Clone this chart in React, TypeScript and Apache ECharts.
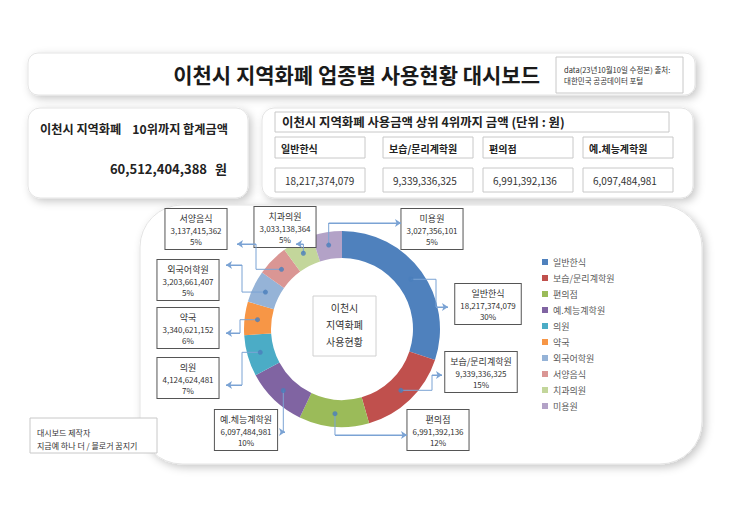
import React, { useEffect, useRef } from 'react';
import * as echarts from 'echarts';

// ---------- data ----------
const categories = ['일반한식', '보습/문리계학원', '편의점', '예.체능계학원', '의원', '약국', '외국어학원', '서양음식', '치과의원', '미용원'];
const amounts = [18217374079, 9339336325, 6991392136, 6097484981, 4124624481, 3340621152, 3203661407, 3137415362, 3033138364, 3027356101];
const sliceColors = ['#4F81BD', '#C0504D', '#9BBB59', '#8064A2', '#4BACC6', '#F79646', '#95B3D7', '#DA9694', '#C3D69B', '#B3A2C7'];
const titleText = '이천시 지역화폐 업종별 사용현황 대시보드';
const sourceLines = ['data(23년10월10일 수정본) 출처:', '대한민국 공공데이터 포털'];
const kpiLabel = '이천시 지역화폐    10위까지 합계금액';
const kpiUnit = '원';
const tableTitle = '이천시 지역화폐 사용금액 상위 4위까지 금액 (단위 : 원)';
const centerLines = ['이천시', '지역화폐', '사용현황'];
const makerLines = ['대시보드 제작자', '지금예 하나 더 / 블로거 꿈지기'];
const TOP_N = 4;

// ---------- layout ----------
const FONT = "'Noto Sans CJK KR', 'Noto Sans', sans-serif";
const W = 743;
const H = 526;
const CX = 342;
const CY = 329;
const R_IN = 71;
const R_OUT = 98;
const R_MID = 85;
const labelCenters = [[488, 304], [481, 372], [438, 430], [246, 430], [188, 378], [188, 328], [188, 280], [196, 229], [285, 227], [432, 229]];
const arrowTips = [[448, 307], [442, 375], [407, 435], [285, 432], [226, 385], [226, 333], [226, 265], [237, 244], [296, 244], [401, 223]];
const elbowX: (number | null)[] = [436, 432, null, null, 242, 240, 242, 256, null, null];
const tableColX = [275, 383, 483, 583];

const fmt = (n: number) => n.toLocaleString('en-US');

export default function App() {
  const ref = useRef<HTMLDivElement>(null);

  useEffect(() => {
    if (!ref.current) return;
    const chart = echarts.init(ref.current, null, { renderer: 'svg' });

    const total = amounts.reduce((a, b) => a + b, 0);
    let acc = 0;
    const dots = amounts.map((v) => {
      const mid = (acc + v / 2) / total;
      acc += v;
      const t = mid * 2 * Math.PI;
      return [CX + R_MID * Math.sin(t), CY - R_MID * Math.cos(t)];
    });
    const paths = dots.map((d, i) => {
      const tip = arrowTips[i];
      const ex = elbowX[i];
      return ex == null ? [d, [d[0], tip[1]], tip] : [d, [ex, d[1]], [ex, tip[1]], tip];
    });

    const shadow = { shadowBlur: 8, shadowColor: 'rgba(0,0,0,0.22)', shadowOffsetX: 3, shadowOffsetY: 3 };
    const graphics: any[] = [];
    const card = (x: number, y: number, w: number, h: number, r: number) =>
      graphics.push({ type: 'rect', z: 0, shape: { x, y, width: w, height: h, r }, style: { fill: '#fff', stroke: '#e4e4e4', lineWidth: 1, ...shadow } });
    const box = (x: number, y: number, w: number, h: number, stroke = '#c8c8c8') =>
      graphics.push({ type: 'rect', z: 1, shape: { x, y, width: w, height: h }, style: { fill: '#fff', stroke, lineWidth: 1 } });
    const text = (x: number, y: number, t: string, size: number, opts: any = {}) =>
      graphics.push({ type: 'text', z: 2, x, y, style: { text: t, fontSize: size, fontFamily: FONT, fill: '#222', verticalAlign: 'middle', align: 'left', ...opts } });

    // title card
    card(28, 53, 667, 42, 10);
    text(540, 74, titleText, 21, { fontWeight: 'bold', align: 'right', fill: '#1a1a1a' });
    box(556, 57, 127, 36);
    text(564, 69, sourceLines[0], 7.5, { fill: '#333' });
    text(564, 80, sourceLines[1], 7.5, { fill: '#333' });

    // KPI card
    card(28, 108, 220, 90, 12);
    text(40, 129, kpiLabel, 12.2, { fontWeight: 'bold' });
    text(207, 168, fmt(total), 13, { fontWeight: 'bold', align: 'right' });
    text(215, 168, kpiUnit, 13, { fontWeight: 'bold' });

    // top-N table card
    card(262, 108, 431, 90, 12);
    box(275, 112, 394, 20);
    text(282, 122, tableTitle, 12.4, { fontWeight: 'bold' });
    for (let i = 0; i < TOP_N; i++) {
      const x = tableColX[i];
      box(x, 137, 90, 21);
      text(x + 6, 148, categories[i], 10, { fontWeight: 'bold' });
      box(x, 168, 90, 24);
      text(x + 10, 180, fmt(amounts[i]), 10, { fill: '#333' });
    }

    // main chart card
    card(140, 205, 562, 259, 42);
    box(313, 296, 63, 60, '#d0d0d0');
    centerLines.forEach((l, i) => text(344.5, 307 + i * 17, l, 10, { align: 'center', fill: '#333' }));

    // maker note
    box(30, 418, 127, 35);
    text(37, 432, makerLines[0], 8, { fill: '#333' });
    text(37, 445, makerLines[1], 8, { fill: '#333' });

    const option: any = {
      animation: false,
      backgroundColor: '#fff',
      textStyle: { fontFamily: FONT },
      graphic: graphics,
      grid: { left: 0, top: 0, right: 0, bottom: 0, containLabel: false },
      xAxis: { type: 'value', min: 0, max: W, show: false },
      yAxis: { type: 'value', min: 0, max: H, inverse: true, show: false },
      legend: {
        data: categories,
        orient: 'vertical',
        left: 537,
        top: 251,
        icon: 'rect',
        itemWidth: 6,
        itemHeight: 6,
        itemGap: 4,
        selectedMode: false,
        textStyle: { fontSize: 9, color: '#595959', lineHeight: 12, fontFamily: FONT },
      },
      series: [
        {
          type: 'pie',
          center: [CX, CY],
          radius: [R_IN, R_OUT],
          startAngle: 90,
          clockwise: true,
          silent: true,
          data: categories.map((name, i) => ({ name, value: amounts[i], itemStyle: { color: sliceColors[i] } })),
          label: {
            show: true,
            position: 'outside',
            formatter: (p: any) => `{n|${p.name}}\n{v|${fmt(p.value)}}\n{v|${Math.round(p.percent)}%}`,
            backgroundColor: '#fff',
            borderColor: '#555',
            borderWidth: 1,
            padding: [3, 5, 2, 5],
            color: '#333',
            fontFamily: FONT,
            rich: {
              n: { fontSize: 9, lineHeight: 13, color: '#333', fontFamily: FONT, align: 'center' },
              v: { fontSize: 8, lineHeight: 11, color: '#333', fontFamily: FONT, align: 'center' },
            },
          },
          labelLine: { show: false },
          labelLayout: (p: any) => ({
            x: labelCenters[p.dataIndex][0],
            y: labelCenters[p.dataIndex][1],
            align: 'center',
            verticalAlign: 'middle',
          }),
        },
        {
          type: 'lines',
          coordinateSystem: 'cartesian2d',
          polyline: true,
          silent: true,
          symbol: 'none',
          z: 3,
          lineStyle: { color: '#7ba3d4', width: 1, opacity: 1 },
          data: paths.map((p) => ({ coords: p })),
        },
        {
          type: 'lines',
          coordinateSystem: 'cartesian2d',
          silent: true,
          symbol: ['none', 'arrow'],
          symbolSize: 6,
          z: 3,
          lineStyle: { color: '#7ba3d4', width: 1, opacity: 1 },
          data: paths.map((p) => ({ coords: [p[p.length - 2], p[p.length - 1]] })),
        },
        {
          type: 'scatter',
          silent: true,
          symbolSize: 5,
          z: 4,
          itemStyle: { color: '#4a7ebb' },
          data: dots,
        },
      ],
    };

    chart.setOption(option);
    return () => chart.dispose();
  }, []);

  return <div ref={ref} style={{ position: 'fixed', left: 0, top: 0, width: W, height: H, background: '#fff' }} />;
}
